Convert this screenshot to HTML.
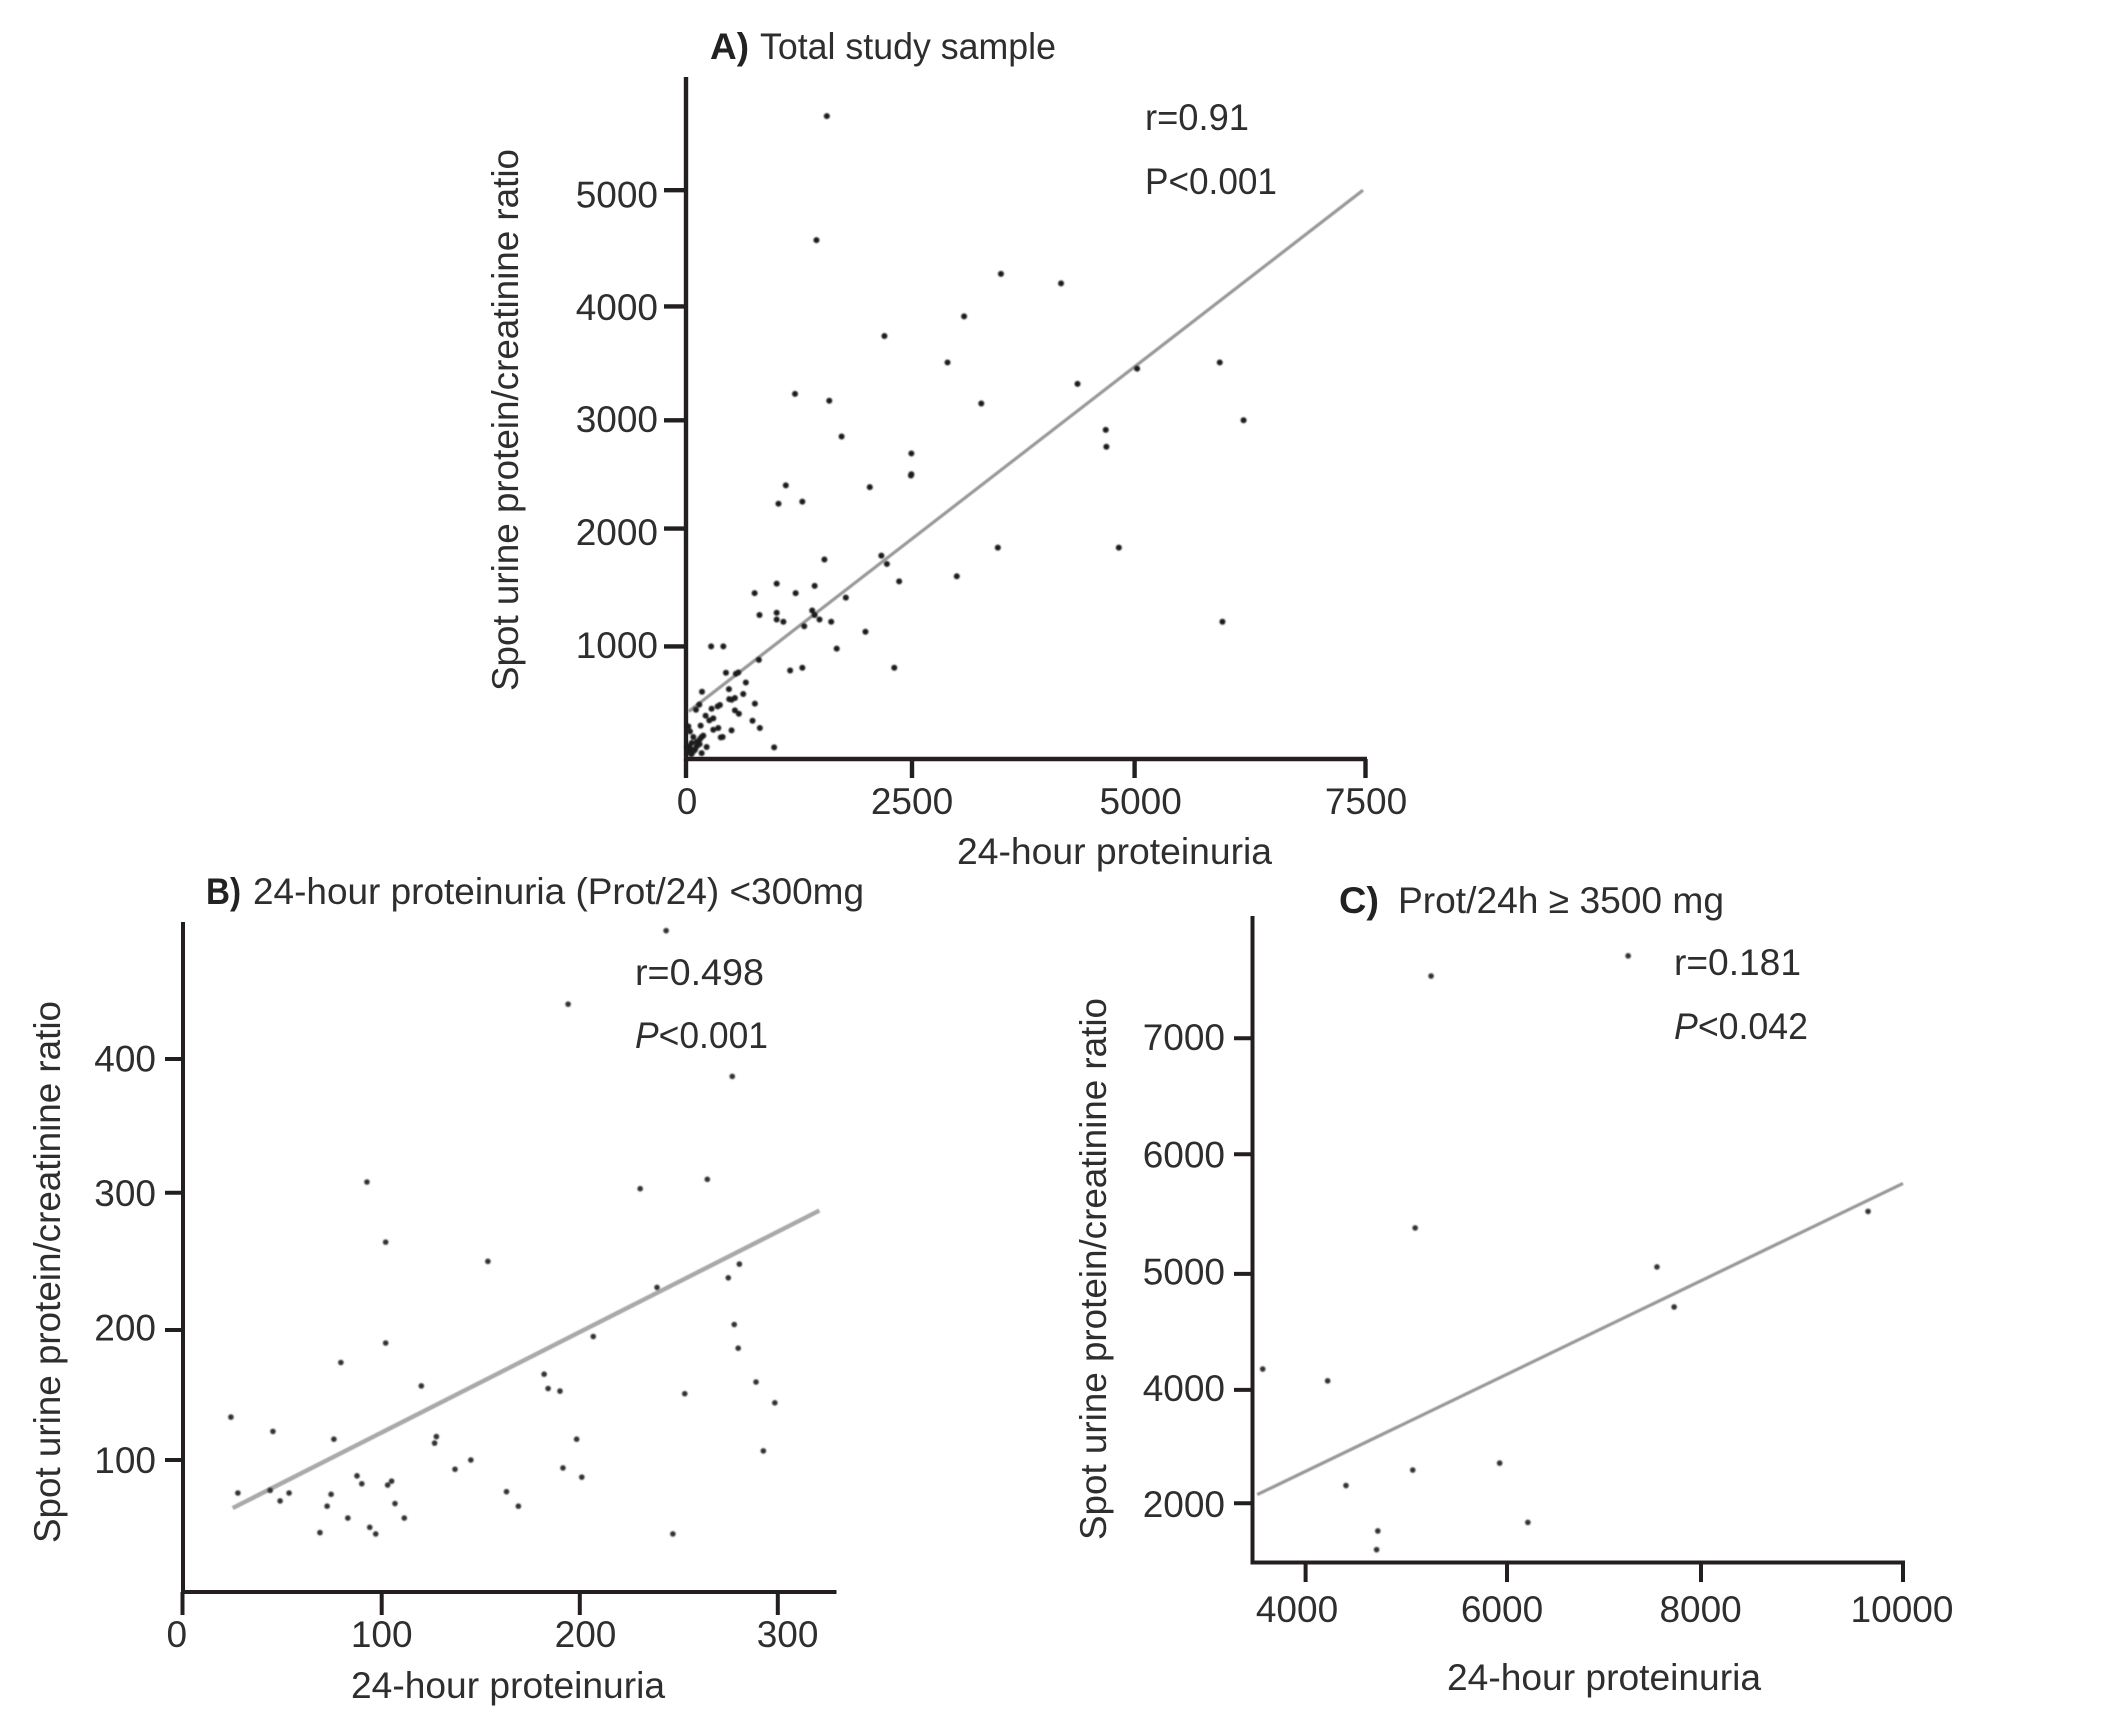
<!DOCTYPE html>
<html lang="en">
<head>
<meta charset="utf-8">
<title>Spot urine protein/creatinine ratio vs 24-hour proteinuria</title>
<style>
  html, body { margin: 0; padding: 0; background: #fff; }
  svg { display: block; }
  text { font-family: "Liberation Sans", sans-serif; fill: #2e2e2e; font-size: 37px; }
  .bold { font-weight: bold; fill: #222; }
</style>
</head>
<body>
<svg id="chart" xmlns="http://www.w3.org/2000/svg" width="2102" height="1718" viewBox="0 0 2102 1718">
  <defs>
    <filter id="soft" x="-50%" y="-50%" width="200%" height="200%"><feGaussianBlur stdDeviation="0.9"/></filter>
    <filter id="softline" x="-5%" y="-5%" width="110%" height="110%"><feGaussianBlur stdDeviation="0.6"/></filter>
  </defs>
  <rect width="2102" height="1718" fill="#fff"/>

  <g id="panel-a">
    <text class="bold" x="710" y="59" textLength="39" lengthAdjust="spacingAndGlyphs">A)</text>
    <text x="760" y="59" textLength="296" lengthAdjust="spacingAndGlyphs">Total study sample</text>
    <text x="1145" y="130" textLength="104" lengthAdjust="spacingAndGlyphs">r=0.91</text>
    <text x="1145" y="194" textLength="132" lengthAdjust="spacingAndGlyphs">P&lt;0.001</text>
    <text transform="translate(518,420) rotate(-90)" text-anchor="middle" textLength="542" lengthAdjust="spacingAndGlyphs">Spot urine protein/creatinine ratio</text>
    <text x="957" y="864" textLength="315" lengthAdjust="spacingAndGlyphs">24-hour proteinuria</text>
  </g>

  <g id="panel-b">
    <text class="bold" x="206" y="904" textLength="35" lengthAdjust="spacingAndGlyphs">B)</text>
    <text x="253" y="904" textLength="611" lengthAdjust="spacingAndGlyphs">24-hour proteinuria (Prot/24) &lt;300mg</text>
    <text x="635" y="985" textLength="129" lengthAdjust="spacingAndGlyphs">r=0.498</text>
    <text x="635" y="1048" textLength="133" lengthAdjust="spacingAndGlyphs"><tspan font-style="italic">P</tspan>&lt;0.001</text>
    <text transform="translate(60,1272) rotate(-90)" text-anchor="middle" textLength="542" lengthAdjust="spacingAndGlyphs">Spot urine protein/creatinine ratio</text>
    <text x="351" y="1698" textLength="314" lengthAdjust="spacingAndGlyphs">24-hour proteinuria</text>
  </g>

  <g id="panel-c">
    <text class="bold" x="1339" y="913" textLength="40" lengthAdjust="spacingAndGlyphs">C)</text>
    <text x="1398" y="913" textLength="326" lengthAdjust="spacingAndGlyphs">Prot/24h ≥ 3500 mg</text>
    <text x="1674" y="975" textLength="127" lengthAdjust="spacingAndGlyphs">r=0.181</text>
    <text x="1674" y="1039" textLength="134" lengthAdjust="spacingAndGlyphs"><tspan font-style="italic">P</tspan>&lt;0.042</text>
    <text transform="translate(1106,1269) rotate(-90)" text-anchor="middle" textLength="542" lengthAdjust="spacingAndGlyphs">Spot urine protein/creatinine ratio</text>
    <text x="1447" y="1690" textLength="314" lengthAdjust="spacingAndGlyphs">24-hour proteinuria</text>
  </g>
</svg>

<script>
// ---- Panel A data ----
const xTicksA = [0, 2500, 5000, 7500];
const yTicksA = [1000, 2000, 3000, 4000, 5000];
const proteinuriaA = [1558,1443,3499,4174,3085,2195,2899,5922,5027,4359,1206,1585,3278,6180,4676,4683,1721,2493,2493,2488,2033,1104,1023,1287,3464,4823,1531,2161,2222,3003,2358,1003,1423,759,1213,1768,813,1003,1003,1077,1396,1423,1477,1606,1308,5951,1985,1667,278,413,806,1152,1287,2304,442,578,552,662,177,475,633,541,504,478,762,375,350,283,110,147,541,585,217,302,258,736,817,162,302,357,504,405,385,975,26,44,81,173,191,155,136,228,173,62,44,99,81,44,118,30,15,60,90,120,150];
const ratioA = [5638,4570,4280,4198,3912,3740,3508,3508,3454,3320,3232,3172,3148,3000,2912,2756,2850,2694,2502,2490,2383,2399,2230,2249,1838,1838,1738,1771,1700,1595,1552,1533,1514,1452,1452,1414,1267,1286,1228,1209,1305,1267,1228,1209,1171,1209,1124,980,1000,1000,880,785,810,810,765,768,757,679,596,620,576,540,525,531,490,478,466,445,436,481,430,400,383,359,341,338,273,294,258,273,252,193,190,101,288,243,193,193,205,175,125,104,50,140,95,80,65,50,110,60,110,40,80,150,130];
const trendXA = [30, 7473];
const trendYA = [421, 5000];

// ---- Panel B data ----
const xTicksB = [0, 100, 200, 300];
const yTicksB = [100, 200, 300, 400];
const proteinuriaB = [243.6,194.1,277,92.6,264.4,230.5,102,153.6,280.6,275,239,206.8,102,278,280,79.5,182,184,190,120,253,289,298.5,24.3,45.4,76,198.4,127.6,126.7,292.7,145,137,191.5,201,87.6,90,105,103,27.8,44,53.5,49,74.6,72.6,163,169,106.7,83,111.4,94,69,97,247];
const ratioB = [496,441,387,308,310,303,264,250,248,238,231,195,190,204,186,175,166,155,153,157,151,160,144,133,122,116,116,118,113,107,100,93,94,87,88,82,84,81,75,77,75,69,74,65,76,65,67,56,56,49,45,44,44];
const trendXB = [25.2, 321];
const trendYB = [63.6, 287];

// ---- Panel C data ----
const xTicksC = [4000, 6000, 8000, 10000];
const yTicksC = [2000, 4000, 5000, 6000, 7000];
const proteinuriaC = [7249,5246,5088,9654,7546,7723,3574,4219,5927,5064,4401,6215,4717,4705];
const ratioC = [7710,7536,5384,5522,5058,4715,4180,4078,2708,2585,2312,1661,1510,1180];
const trendXC = [3520, 10000];
const trendYC = [2152, 5756];

const NS = 'http://www.w3.org/2000/svg';

// Axis function: the printed axes are not perfectly even, so each scale is piecewise linear.
function axisScale(domain, range) {
  return function (v) {
    let i = 0;
    while (i < domain.length - 2 && v > domain[i + 1]) i++;
    const t = (v - domain[i]) / (domain[i + 1] - domain[i]);
    return range[i] + t * (range[i + 1] - range[i]);
  };
}

function makeLine(parent, x1, y1, x2, y2, width, color) {
  const el = document.createElementNS(NS, 'line');
  el.setAttribute('x1', x1);
  el.setAttribute('y1', y1);
  el.setAttribute('x2', x2);
  el.setAttribute('y2', y2);
  el.setAttribute('stroke', color);
  el.setAttribute('stroke-width', width);
  parent.appendChild(el);
  return el;
}

function makeText(parent, x, y, anchor, str) {
  const el = document.createElementNS(NS, 'text');
  el.setAttribute('x', x);
  el.setAttribute('y', y);
  el.setAttribute('text-anchor', anchor);
  el.textContent = str;
  parent.appendChild(el);
  return el;
}

function drawPanel(cfg) {
  const g = document.getElementById(cfg.id);
  const sx = axisScale(cfg.xTicks, cfg.xRange);
  const sy = axisScale(cfg.yDomain, cfg.yRange);
  const lx = axisScale(cfg.xTicks, cfg.xLabelRange);
  const ly = axisScale(cfg.yDomain, cfg.yLabelRange);
  const ink = '#231f20';

  const yAxis = makeLine(g, cfg.axisX, cfg.axisTop, cfg.axisX, cfg.axisY + 2, cfg.axisW, ink);
  
  
  const xAxis = makeLine(g, cfg.axisX - 2, cfg.axisY, cfg.axisRight, cfg.axisY, cfg.axisW, ink);
  
  

  cfg.xTicks.forEach(function (t) {
    const tick = makeLine(g, sx(t), cfg.axisY, sx(t), cfg.xTickEnd, cfg.tickW, ink);
    
    
    const label = makeText(g, lx(t), cfg.xLabelY, 'middle', String(t));
    
    
  });

  cfg.yTicks.forEach(function (t) {
    const tick = makeLine(g, cfg.yTickStart, sy(t), cfg.axisX, sy(t), cfg.tickW, ink);
    
    
    const label = makeText(g, cfg.yLabelX, ly(t), 'end', String(t));
    
    
  });

  const trend = makeLine(g, sx(cfg.trendX[0]), sy(cfg.trendY[0]), sx(cfg.trendX[1]), sy(cfg.trendY[1]), cfg.trendW, cfg.trendColor);
  trend.setAttribute('filter', 'url(#softline)');
  
  

  const dots = document.createElementNS(NS, 'g');
  dots.setAttribute('filter', 'url(#soft)');
  
  
  g.appendChild(dots);
  cfg.xs.forEach(function (x, i) {
    const c = document.createElementNS(NS, 'circle');
    c.setAttribute('cx', sx(x));
    c.setAttribute('cy', sy(cfg.ys[i]));
    c.setAttribute('r', cfg.dotR);
    c.setAttribute('fill', cfg.dotColor);
    
    
    dots.appendChild(c);
  });
}

drawPanel({
  id: 'panel-a', xTicks: xTicksA, yTicks: yTicksA, xs: proteinuriaA, ys: ratioA, trendX: trendXA, trendY: trendYA,
  yDomain: [0, 1000, 2000, 3000, 4000, 5000],
  xRange: [686, 912, 1134.6, 1365.5], yRange: [758.7, 646.4, 528.6, 420.3, 306.4, 190.2],
  xLabelRange: [687, 912, 1140.7, 1366], yLabelRange: [771, 658, 545, 432, 320, 207.6],
  axisX: 686, axisY: 759, axisTop: 77, axisRight: 1367, axisW: 4.4, tickW: 4.4,
  xTickEnd: 778, yTickStart: 664, xLabelY: 814, yLabelX: 658,
  trendW: 3.2, trendColor: '#999999', dotR: 3, dotColor: '#1c1c1c'
});

drawPanel({
  id: 'panel-b', xTicks: xTicksB, yTicks: yTicksB, xs: proteinuriaB, ys: ratioB, trendX: trendXB, trendY: trendYB,
  yDomain: [0, 100, 200, 300, 400],
  xRange: [182.5, 381.7, 579.8, 777.8], yRange: [1592, 1460, 1330, 1192.7, 1059],
  xLabelRange: [176.8, 381.7, 585.5, 787.6], yLabelRange: [1605, 1473, 1340.7, 1206, 1071.3],
  axisX: 183, axisY: 1592, axisTop: 922, axisRight: 836.5, axisW: 4, tickW: 4,
  xTickEnd: 1615, yTickStart: 165, xLabelY: 1647, yLabelX: 156,
  trendW: 4.4, trendColor: '#a9a9a9', dotR: 2.8, dotColor: '#333333'
});

drawPanel({
  id: 'panel-c', xTicks: xTicksC, yTicks: yTicksC, xs: proteinuriaC, ys: ratioC, trendX: trendXC, trendY: trendYC,
  yDomain: [2000, 4000, 5000, 6000, 7000],
  xRange: [1305.6, 1507, 1701, 1903], yRange: [1503.2, 1389.9, 1273.9, 1154.2, 1038.2],
  xLabelRange: [1297, 1502, 1700.6, 1902], yLabelRange: [1517, 1401, 1284.6, 1167.5, 1050],
  axisX: 1252.5, axisY: 1562.5, axisTop: 916, axisRight: 1905, axisW: 4, tickW: 4,
  xTickEnd: 1582, yTickStart: 1234, xLabelY: 1622, yLabelX: 1225,
  trendW: 3.2, trendColor: '#999999', dotR: 2.8, dotColor: '#333333'
});
</script>
</body>
</html>
